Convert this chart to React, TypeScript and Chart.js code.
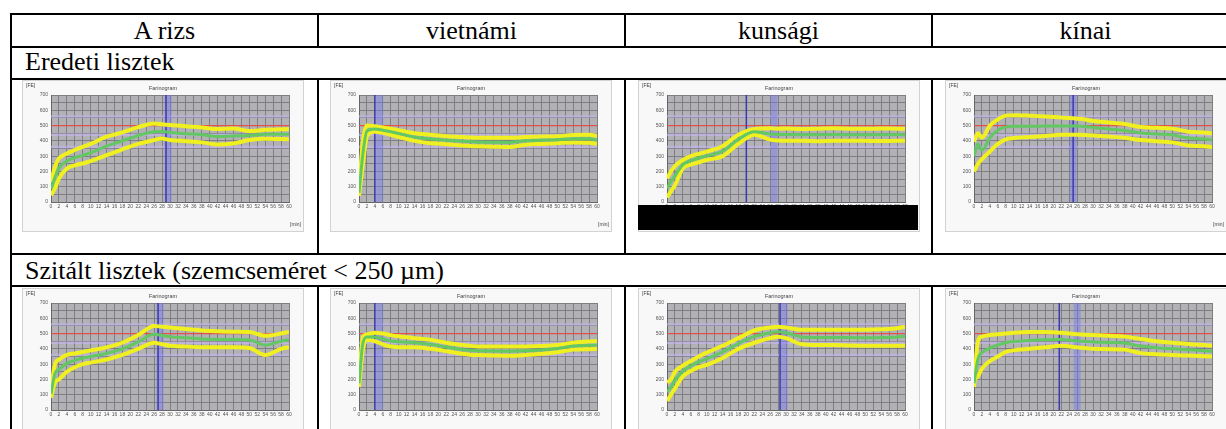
import React, { useEffect, useRef } from "react";
import { Chart, registerables } from "chart.js";
Chart.register(...registerables);

// ---------- table text ----------
const COLUMNS = ["A rizs", "vietnámi", "kunsági", "kínai"];
const ROW_TITLES = ["Eredeti lisztek", "Szitált lisztek (szemcseméret < 250 µm)"];

// ---------- farinogram axes ----------
const Y_MAX = 700;
const Y_GRID_STEP = 50;
const Y_LABEL_STEP = 100;
const X_MAX = 60;
const X_STEP = 2;
const CONSISTENCY_LINE = 500;
const REF_LINES = [560, 440, 360];

// sample times (min)
const TIMES = [0, 1, 2, 4, 6, 8, 10, 14, 18, 22, 26, 28, 30, 34, 38, 42, 46, 50, 54, 58, 60];

// ---- Eredeti lisztek ----
const RIZS_ER_UPPER = [130, 230, 285, 317, 340, 361, 380, 427, 455, 490, 514, 508, 503, 495, 488, 477, 481, 464, 472, 476, 477];
const RIZS_ER_LOWER = [44, 90, 153, 219, 240, 252, 268, 306, 345, 380, 405, 416, 405, 398, 390, 376, 383, 405, 414, 412, 411];
const RIZS_ER_MID = [85, 160, 220, 268, 290, 305, 322, 365, 400, 435, 460, 462, 455, 447, 440, 428, 432, 435, 443, 444, 444];

const VIET_ER_UPPER = [80, 400, 500, 495, 488, 480, 470, 450, 440, 430, 425, 422, 420, 420, 420, 425, 428, 430, 438, 440, 432];
const VIET_ER_LOWER = [40, 250, 430, 460, 452, 440, 425, 400, 385, 378, 370, 367, 365, 362, 360, 375, 380, 385, 390, 388, 380];
const VIET_ER_MID = [60, 320, 465, 478, 470, 460, 448, 425, 412, 404, 398, 395, 392, 391, 390, 400, 404, 408, 414, 414, 406];

const KUNS_ER_UPPER = [153, 200, 235, 275, 300, 315, 330, 365, 440, 478, 482, 480, 481, 478, 480, 482, 480, 479, 481, 480, 480];
const KUNS_ER_LOWER = [30, 70, 110, 220, 245, 260, 275, 300, 380, 440, 408, 402, 400, 400, 398, 400, 401, 400, 399, 400, 400];
const KUNS_ER_MID = [90, 135, 170, 245, 270, 288, 302, 332, 410, 460, 445, 442, 441, 440, 440, 441, 440, 440, 440, 441, 440];

const KINA_ER_UPPER = [394, 450, 420, 500, 540, 565, 568, 565, 560, 552, 545, 540, 530, 520, 510, 490, 485, 480, 460, 455, 450];
const KINA_ER_LOWER = [200, 250, 280, 330, 380, 410, 418, 425, 432, 440, 440, 438, 435, 428, 420, 405, 398, 390, 370, 365, 360];
const KINA_ER_MID = [300, 380, 340, 420, 470, 490, 495, 495, 497, 498, 497, 494, 488, 478, 468, 452, 445, 438, 418, 412, 406];

// ---- Szitált lisztek ----
const RIZS_SZ_UPPER = [130, 300, 330, 360, 370, 380, 390, 410, 440, 490, 550, 545, 540, 530, 520, 515, 512, 510, 485, 500, 510];
const RIZS_SZ_LOWER = [80, 180, 200, 250, 280, 300, 310, 330, 360, 400, 440, 430, 420, 415, 410, 410, 410, 405, 360, 400, 410];
const RIZS_SZ_MID = [105, 240, 265, 305, 325, 340, 350, 370, 400, 445, 495, 488, 480, 472, 465, 462, 461, 458, 425, 450, 460];

const VIET_SZ_UPPER = [200, 480, 495, 505, 500, 490, 482, 470, 460, 440, 425, 420, 415, 415, 415, 415, 418, 425, 440, 448, 450];
const VIET_SZ_LOWER = [150, 400, 460, 450, 430, 415, 410, 410, 400, 385, 368, 362, 360, 357, 355, 360, 368, 378, 395, 398, 400];
const VIET_SZ_MID = [175, 440, 478, 478, 465, 452, 446, 440, 430, 412, 396, 391, 388, 386, 385, 388, 393, 402, 418, 423, 425];

const KUNS_SZ_UPPER = [180, 200, 250, 290, 320, 350, 375, 420, 470, 520, 540, 545, 540, 525, 525, 525, 525, 525, 528, 535, 545];
const KUNS_SZ_LOWER = [60, 100, 140, 220, 255, 280, 295, 340, 400, 440, 470, 480, 470, 430, 425, 425, 422, 420, 420, 420, 420];
const KUNS_SZ_MID = [120, 150, 195, 255, 288, 315, 335, 380, 435, 480, 505, 512, 505, 478, 475, 475, 474, 472, 474, 478, 482];

const KINA_SZ_UPPER = [150, 450, 480, 490, 495, 500, 505, 510, 510, 505, 495, 492, 490, 485, 480, 465, 450, 440, 432, 425, 420];
const KINA_SZ_LOWER = [200, 220, 270, 320, 350, 380, 390, 400, 410, 420, 410, 405, 400, 398, 395, 372, 365, 360, 356, 352, 350];
const KINA_SZ_MID = [175, 335, 375, 405, 425, 440, 448, 455, 460, 462, 452, 448, 445, 442, 438, 418, 408, 400, 394, 388, 385];

// vertical time markers (dark line, light band), per chart in reading order
const MARK_DARK = [29, 4, 20, 25, 27, 4, 28.5, 21.5];
const MARK_LIGHT = [29.5, 5.2, 27, 25, 27.5, 5.2, 29.5, 26];

const CHART_W = 282;
const CHART_H = 152;

const plotBg = {
  id: "plotBg",
  beforeDraw(chart: any) {
    const { ctx, chartArea } = chart;
    if (!chartArea) return;
    ctx.save();
    ctx.fillStyle = "#b2b2b6";
    ctx.fillRect(chartArea.left, chartArea.top, chartArea.width, chartArea.height);
    ctx.restore();
  },
};

function Farinogram(props: {
  left: number;
  top: number;
  upper: number[];
  lower: number[];
  mid: number[];
  mark: number;
  markLight: number;
}) {
  const ref = useRef<HTMLCanvasElement>(null);
  const { left, top, upper, lower, mid, mark, markLight } = props;
  useEffect(() => {
    const pts = (arr: number[]) => TIMES.map((t, i) => ({ x: t, y: arr[i] }));
    const hline = (v: number) => [{ x: 0, y: v }, { x: X_MAX, y: v }];
    const vline = (t: number) => [{ x: t, y: 0 }, { x: t, y: Y_MAX }];
    const curve = { tension: 0.35, cubicInterpolationMode: "monotone" as const };
    const tickFont = { size: 5, family: "Liberation Sans" };
    const chart = new Chart(ref.current as HTMLCanvasElement, {
      type: "line",
      data: {
        datasets: [
          { data: pts(mid), borderColor: "#62c862", borderWidth: 3, order: 1, ...curve },
          { data: pts(upper), borderColor: "#f0f020", borderWidth: 4, order: 2, ...curve },
          { data: pts(lower), borderColor: "#f0f020", borderWidth: 4, order: 3, ...curve },
          { data: vline(mark), borderColor: "#3a3aae", borderWidth: 1.5, order: 4 },
          { data: vline(markLight), borderColor: "rgba(120,120,240,0.45)", borderWidth: 7, order: 5 },
          { data: hline(CONSISTENCY_LINE), borderColor: "#e2524a", borderWidth: 1.2, order: 6 },
          ...REF_LINES.map((v) => ({
            data: hline(v),
            borderColor: "rgba(200,182,246,0.55)",
            borderWidth: 2.5,
            order: 7,
          })),
        ] as any,
      },
      options: {
        animation: false,
        responsive: false,
        devicePixelRatio: 1,
        layout: { padding: { top: 15, right: 15, left: 0, bottom: 0 } },
        plugins: { legend: { display: false }, tooltip: { enabled: false }, title: { display: false } },
        elements: { point: { radius: 0 }, line: { tension: 0 } },
        scales: {
          x: {
            type: "linear",
            min: 0,
            max: X_MAX,
            afterFit: (s: any) => {
              s.height = 30;
            },
            ticks: {
              stepSize: X_STEP,
              autoSkip: false,
              maxRotation: 0,
              minRotation: 0,
              font: tickFont,
              color: "#555",
              padding: 2,
            },
            grid: { color: "#7f7f82", lineWidth: 1, drawTicks: false },
            border: { color: "#666" },
          },
          y: {
            min: 0,
            max: Y_MAX,
            afterFit: (s: any) => {
              s.width = 29;
            },
            ticks: {
              stepSize: Y_GRID_STEP,
              autoSkip: false,
              font: tickFont,
              color: "#555",
              padding: 3,
              callback: (v: any) => (Number(v) % Y_LABEL_STEP === 0 ? String(v) : ""),
            },
            grid: { color: "#7f7f82", lineWidth: 1, drawTicks: false },
            border: { color: "#666" },
          },
        },
      } as any,
      plugins: [plotBg],
    });
    return () => chart.destroy();
  }, []);
  const small: React.CSSProperties = {
    position: "absolute",
    fontFamily: "Liberation Sans",
    fontSize: 5,
    color: "#444",
    lineHeight: "6px",
    whiteSpace: "nowrap",
  };
  return (
    <div
      style={{
        position: "absolute",
        left,
        top,
        width: CHART_W,
        height: CHART_H,
        background: "#f8f8f8",
        boxShadow: "inset 0 0 0 1px #d2d2d2",
      }}
    >
      <canvas ref={ref} width={CHART_W} height={CHART_H} style={{ position: "absolute", left: 0, top: 0 }} />
      <span style={{ ...small, left: 4, top: 2 }}>[FE]</span>
      <span style={{ ...small, left: 0, width: CHART_W, top: 5, textAlign: "center", fontSize: 5.5 }}>Farinogram</span>
      <span style={{ ...small, left: 268, top: 141 }}>[min]</span>
    </div>
  );
}

const CHARTS_TOP = [
  { upper: RIZS_ER_UPPER, lower: RIZS_ER_LOWER, mid: RIZS_ER_MID },
  { upper: VIET_ER_UPPER, lower: VIET_ER_LOWER, mid: VIET_ER_MID },
  { upper: KUNS_ER_UPPER, lower: KUNS_ER_LOWER, mid: KUNS_ER_MID },
  { upper: KINA_ER_UPPER, lower: KINA_ER_LOWER, mid: KINA_ER_MID },
];
const CHARTS_BOTTOM = [
  { upper: RIZS_SZ_UPPER, lower: RIZS_SZ_LOWER, mid: RIZS_SZ_MID },
  { upper: VIET_SZ_UPPER, lower: VIET_SZ_LOWER, mid: VIET_SZ_MID },
  { upper: KUNS_SZ_UPPER, lower: KUNS_SZ_LOWER, mid: KUNS_SZ_MID },
  { upper: KINA_SZ_UPPER, lower: KINA_SZ_LOWER, mid: KINA_SZ_MID },
];

const COL_X = [11, 318, 625, 932, 1239];
const CHART_X = [22, 330, 638, 945];
const ROW_Y = [14, 47, 79, 254, 286];

function HL({ y }: { y: number }) {
  return <div style={{ position: "absolute", left: 10, top: y - 1, width: 1240, height: 2, background: "#000" }} />;
}
function VL({ x, y1, y2 }: { x: number; y1: number; y2: number }) {
  return <div style={{ position: "absolute", left: x - 1, top: y1, width: 2, height: y2 - y1, background: "#000" }} />;
}

export default function App() {
  const serif: React.CSSProperties = {
    position: "absolute",
    fontFamily: "'Liberation Serif', 'Times New Roman', serif",
    fontSize: 26,
    lineHeight: "30px",
    color: "#000",
    whiteSpace: "nowrap",
  };
  return (
    <div
      style={{
        position: "absolute",
        left: 0,
        top: 0,
        width: 1226,
        height: 429,
        overflow: "hidden",
        background: "#fff",
      }}
    >
      {COLUMNS.map((c, i) => (
        <div
          key={c}
          style={{ ...serif, left: COL_X[i], width: COL_X[i + 1] - COL_X[i], top: 16, textAlign: "center" }}
        >
          {c}
        </div>
      ))}
      <div style={{ ...serif, left: 25, top: 47 }}>{ROW_TITLES[0]}</div>
      <div style={{ ...serif, left: 25, top: 256 }}>{ROW_TITLES[1]}</div>

      {CHARTS_TOP.map((c, i) => (
        <Farinogram
          key={"t" + i}
          left={CHART_X[i]}
          top={80}
          upper={c.upper}
          lower={c.lower}
          mid={c.mid}
          mark={MARK_DARK[i]}
          markLight={MARK_LIGHT[i]}
        />
      ))}
      {CHARTS_BOTTOM.map((c, i) => (
        <Farinogram
          key={"b" + i}
          left={CHART_X[i]}
          top={288}
          upper={c.upper}
          lower={c.lower}
          mid={c.mid}
          mark={MARK_DARK[i + 4]}
          markLight={MARK_LIGHT[i + 4]}
        />
      ))}
      <div style={{ position: "absolute", left: 638, top: 205, width: 280, height: 25, background: "#000" }} />

      {ROW_Y.map((y) => (
        <HL key={y} y={y} />
      ))}
      <VL x={COL_X[0]} y1={13} y2={440} />
      {COL_X.slice(1, 4).map((x) => (
        <React.Fragment key={x}>
          <VL x={x} y1={13} y2={48} />
          <VL x={x} y1={78} y2={255} />
          <VL x={x} y1={285} y2={440} />
        </React.Fragment>
      ))}
    </div>
  );
}
